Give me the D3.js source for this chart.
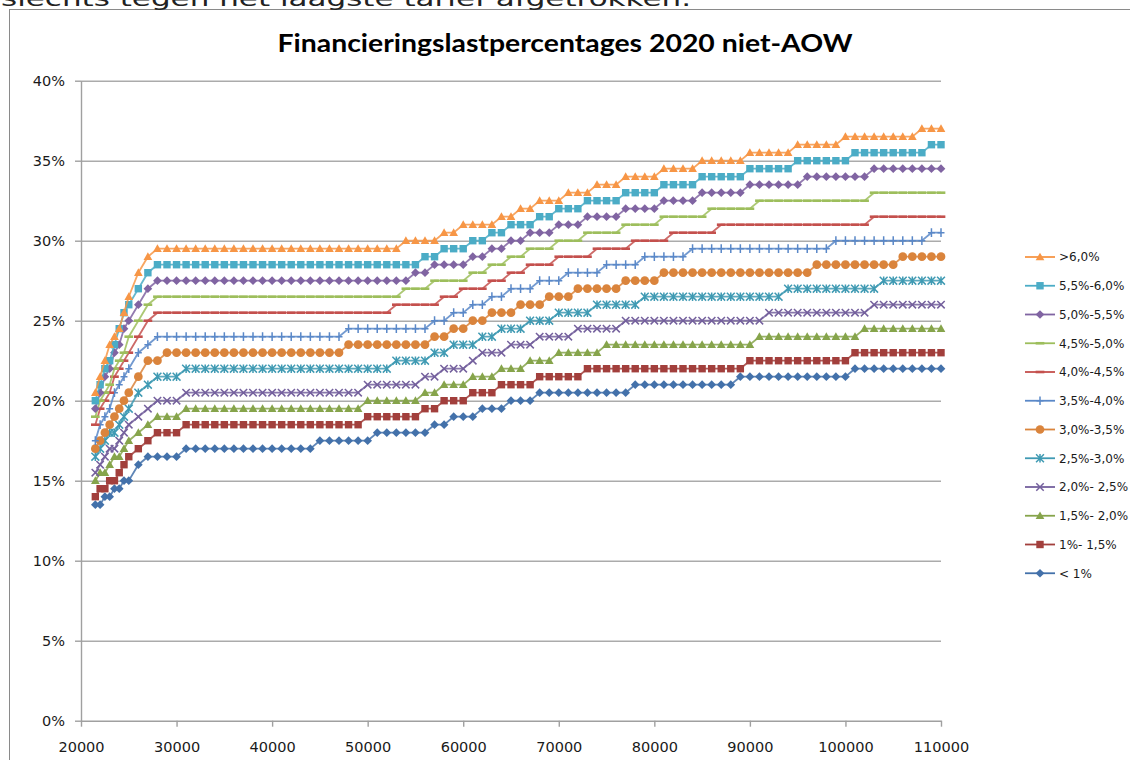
<!DOCTYPE html>
<html>
<head>
<meta charset="utf-8">
<script src="https://cdn.jsdelivr.net/npm/d3@7"></script>
<style>
  body { margin: 0; background: #fff; }
  svg { display: block; }
</style>
</head>
<body>
<svg id="chart" width="1130" height="760"></svg>
<script>
/* Financieringslastpercentages 2020 niet-AOW */

// Toetsinkomen (x) and percentages per rente-klasse
const incomes = [
  21500, 22000, 22500, 23000, 23500, 24000, 24500, 25000,
  26000, 27000, 28000, 29000,
  30000, 31000, 32000, 33000, 34000, 35000, 36000, 37000, 38000, 39000,
  40000, 41000, 42000, 43000, 44000, 45000, 46000, 47000, 48000, 49000,
  50000, 51000, 52000, 53000, 54000, 55000, 56000, 57000, 58000, 59000,
  60000, 61000, 62000, 63000, 64000, 65000, 66000, 67000, 68000, 69000,
  70000, 71000, 72000, 73000, 74000, 75000, 76000, 77000, 78000, 79000,
  80000, 81000, 82000, 83000, 84000, 85000, 86000, 87000, 88000, 89000,
  90000, 91000, 92000, 93000, 94000, 95000, 96000, 97000, 98000, 99000,
  100000, 101000, 102000, 103000, 104000, 105000, 106000, 107000, 108000, 109000,
  110000
];

const pctLt1 = [
  13.5, 13.5, 14, 14, 14.5, 14.5, 15, 15,
  16, 16.5, 16.5, 16.5,
  16.5, 17, 17, 17, 17, 17, 17, 17, 17, 17,
  17, 17, 17, 17, 17, 17.5, 17.5, 17.5, 17.5, 17.5,
  17.5, 18, 18, 18, 18, 18, 18, 18.5, 18.5, 19,
  19, 19, 19.5, 19.5, 19.5, 20, 20, 20, 20.5, 20.5,
  20.5, 20.5, 20.5, 20.5, 20.5, 20.5, 20.5, 20.5, 21, 21,
  21, 21, 21, 21, 21, 21, 21, 21, 21, 21.5,
  21.5, 21.5, 21.5, 21.5, 21.5, 21.5, 21.5, 21.5, 21.5, 21.5,
  21.5, 22, 22, 22, 22, 22, 22, 22, 22, 22,
  22
];
const pct1to15 = [
  14, 14.5, 14.5, 15, 15, 15.5, 16, 16.5,
  17, 17.5, 18, 18,
  18, 18.5, 18.5, 18.5, 18.5, 18.5, 18.5, 18.5, 18.5, 18.5,
  18.5, 18.5, 18.5, 18.5, 18.5, 18.5, 18.5, 18.5, 18.5, 18.5,
  19, 19, 19, 19, 19, 19, 19.5, 19.5, 20, 20,
  20, 20.5, 20.5, 20.5, 21, 21, 21, 21, 21.5, 21.5,
  21.5, 21.5, 21.5, 22, 22, 22, 22, 22, 22, 22,
  22, 22, 22, 22, 22, 22, 22, 22, 22, 22,
  22.5, 22.5, 22.5, 22.5, 22.5, 22.5, 22.5, 22.5, 22.5, 22.5,
  22.5, 23, 23, 23, 23, 23, 23, 23, 23, 23,
  23
];
const pct15to2 = [
  15, 15.5, 15.5, 16, 16.5, 16.5, 17, 17.5,
  18, 18.5, 19, 19,
  19, 19.5, 19.5, 19.5, 19.5, 19.5, 19.5, 19.5, 19.5, 19.5,
  19.5, 19.5, 19.5, 19.5, 19.5, 19.5, 19.5, 19.5, 19.5, 19.5,
  20, 20, 20, 20, 20, 20, 20.5, 20.5, 21, 21,
  21, 21.5, 21.5, 21.5, 22, 22, 22, 22.5, 22.5, 22.5,
  23, 23, 23, 23, 23, 23.5, 23.5, 23.5, 23.5, 23.5,
  23.5, 23.5, 23.5, 23.5, 23.5, 23.5, 23.5, 23.5, 23.5, 23.5,
  23.5, 24, 24, 24, 24, 24, 24, 24, 24, 24,
  24, 24, 24.5, 24.5, 24.5, 24.5, 24.5, 24.5, 24.5, 24.5,
  24.5
];
const pct2to25 = [
  15.5, 16, 16.5, 17, 17, 17.5, 18, 18.5,
  19, 19.5, 20, 20,
  20, 20.5, 20.5, 20.5, 20.5, 20.5, 20.5, 20.5, 20.5, 20.5,
  20.5, 20.5, 20.5, 20.5, 20.5, 20.5, 20.5, 20.5, 20.5, 20.5,
  21, 21, 21, 21, 21, 21, 21.5, 21.5, 22, 22,
  22, 22.5, 23, 23, 23, 23.5, 23.5, 23.5, 24, 24,
  24, 24, 24.5, 24.5, 24.5, 24.5, 24.5, 25, 25, 25,
  25, 25, 25, 25, 25, 25, 25, 25, 25, 25,
  25, 25, 25.5, 25.5, 25.5, 25.5, 25.5, 25.5, 25.5, 25.5,
  25.5, 25.5, 25.5, 26, 26, 26, 26, 26, 26, 26,
  26
];
const pct25to3 = [
  16.5, 17, 17.5, 18, 18, 18.5, 19, 19.5,
  20.5, 21, 21.5, 21.5,
  21.5, 22, 22, 22, 22, 22, 22, 22, 22, 22,
  22, 22, 22, 22, 22, 22, 22, 22, 22, 22,
  22, 22, 22, 22.5, 22.5, 22.5, 22.5, 23, 23, 23.5,
  23.5, 23.5, 24, 24, 24.5, 24.5, 24.5, 25, 25, 25,
  25.5, 25.5, 25.5, 25.5, 26, 26, 26, 26, 26, 26.5,
  26.5, 26.5, 26.5, 26.5, 26.5, 26.5, 26.5, 26.5, 26.5, 26.5,
  26.5, 26.5, 26.5, 26.5, 27, 27, 27, 27, 27, 27,
  27, 27, 27, 27, 27.5, 27.5, 27.5, 27.5, 27.5, 27.5,
  27.5
];
const pct3to35 = [
  17, 17.5, 18, 18.5, 19, 19.5, 20, 20.5,
  21.5, 22.5, 22.5, 23,
  23, 23, 23, 23, 23, 23, 23, 23, 23, 23,
  23, 23, 23, 23, 23, 23, 23, 23, 23.5, 23.5,
  23.5, 23.5, 23.5, 23.5, 23.5, 23.5, 23.5, 24, 24, 24.5,
  24.5, 25, 25, 25.5, 25.5, 25.5, 26, 26, 26, 26.5,
  26.5, 26.5, 27, 27, 27, 27, 27, 27.5, 27.5, 27.5,
  27.5, 28, 28, 28, 28, 28, 28, 28, 28, 28,
  28, 28, 28, 28, 28, 28, 28, 28.5, 28.5, 28.5,
  28.5, 28.5, 28.5, 28.5, 28.5, 28.5, 29, 29, 29, 29,
  29
];
const pct35to4 = [
  17.5, 18.5, 19, 19.5, 20.5, 21, 21.5, 22,
  23, 23.5, 24, 24,
  24, 24, 24, 24, 24, 24, 24, 24, 24, 24,
  24, 24, 24, 24, 24, 24, 24, 24, 24.5, 24.5,
  24.5, 24.5, 24.5, 24.5, 24.5, 24.5, 24.5, 25, 25, 25.5,
  25.5, 26, 26, 26.5, 26.5, 27, 27, 27, 27.5, 27.5,
  27.5, 28, 28, 28, 28, 28.5, 28.5, 28.5, 28.5, 29,
  29, 29, 29, 29, 29.5, 29.5, 29.5, 29.5, 29.5, 29.5,
  29.5, 29.5, 29.5, 29.5, 29.5, 29.5, 29.5, 29.5, 29.5, 30,
  30, 30, 30, 30, 30, 30, 30, 30, 30, 30.5,
  30.5
];
const pct4to45 = [
  18.5, 19.5, 20, 20.5, 21.5, 22, 22.5, 23,
  24, 25, 25.5, 25.5,
  25.5, 25.5, 25.5, 25.5, 25.5, 25.5, 25.5, 25.5, 25.5, 25.5,
  25.5, 25.5, 25.5, 25.5, 25.5, 25.5, 25.5, 25.5, 25.5, 25.5,
  25.5, 25.5, 25.5, 26, 26, 26, 26, 26, 26.5, 26.5,
  27, 27, 27, 27.5, 27.5, 28, 28, 28.5, 28.5, 28.5,
  29, 29, 29, 29, 29.5, 29.5, 29.5, 29.5, 30, 30,
  30, 30, 30.5, 30.5, 30.5, 30.5, 30.5, 31, 31, 31,
  31, 31, 31, 31, 31, 31, 31, 31, 31, 31,
  31, 31, 31, 31.5, 31.5, 31.5, 31.5, 31.5, 31.5, 31.5,
  31.5
];
const pct45to5 = [
  19, 20, 20.5, 21, 22, 22.5, 23, 24,
  25, 26, 26.5, 26.5,
  26.5, 26.5, 26.5, 26.5, 26.5, 26.5, 26.5, 26.5, 26.5, 26.5,
  26.5, 26.5, 26.5, 26.5, 26.5, 26.5, 26.5, 26.5, 26.5, 26.5,
  26.5, 26.5, 26.5, 26.5, 27, 27, 27, 27.5, 27.5, 27.5,
  27.5, 28, 28, 28.5, 28.5, 29, 29, 29.5, 29.5, 29.5,
  30, 30, 30, 30.5, 30.5, 30.5, 30.5, 31, 31, 31,
  31, 31.5, 31.5, 31.5, 31.5, 31.5, 32, 32, 32, 32,
  32, 32.5, 32.5, 32.5, 32.5, 32.5, 32.5, 32.5, 32.5, 32.5,
  32.5, 32.5, 32.5, 33, 33, 33, 33, 33, 33, 33,
  33
];
const pct5to55 = [
  19.5, 20.5, 21.5, 22, 23, 23.5, 24.5, 25,
  26, 27, 27.5, 27.5,
  27.5, 27.5, 27.5, 27.5, 27.5, 27.5, 27.5, 27.5, 27.5, 27.5,
  27.5, 27.5, 27.5, 27.5, 27.5, 27.5, 27.5, 27.5, 27.5, 27.5,
  27.5, 27.5, 27.5, 27.5, 27.5, 28, 28, 28.5, 28.5, 28.5,
  28.5, 29, 29, 29.5, 29.5, 30, 30, 30.5, 30.5, 30.5,
  31, 31, 31, 31.5, 31.5, 31.5, 31.5, 32, 32, 32,
  32, 32.5, 32.5, 32.5, 32.5, 33, 33, 33, 33, 33,
  33.5, 33.5, 33.5, 33.5, 33.5, 33.5, 34, 34, 34, 34,
  34, 34, 34, 34.5, 34.5, 34.5, 34.5, 34.5, 34.5, 34.5,
  34.5
];
const pct55to6 = [
  20, 21, 22, 22.5, 23.5, 24.5, 25.5, 26,
  27, 28, 28.5, 28.5,
  28.5, 28.5, 28.5, 28.5, 28.5, 28.5, 28.5, 28.5, 28.5, 28.5,
  28.5, 28.5, 28.5, 28.5, 28.5, 28.5, 28.5, 28.5, 28.5, 28.5,
  28.5, 28.5, 28.5, 28.5, 28.5, 28.5, 29, 29, 29.5, 29.5,
  29.5, 30, 30, 30.5, 30.5, 31, 31, 31, 31.5, 31.5,
  32, 32, 32, 32.5, 32.5, 32.5, 32.5, 33, 33, 33,
  33, 33.5, 33.5, 33.5, 33.5, 34, 34, 34, 34, 34,
  34.5, 34.5, 34.5, 34.5, 34.5, 35, 35, 35, 35, 35,
  35, 35.5, 35.5, 35.5, 35.5, 35.5, 35.5, 35.5, 35.5, 36,
  36
];
const pctGt6 = [
  20.5, 21.5, 22.5, 23.5, 24, 24.5, 25.5, 26.5,
  28, 29, 29.5, 29.5,
  29.5, 29.5, 29.5, 29.5, 29.5, 29.5, 29.5, 29.5, 29.5, 29.5,
  29.5, 29.5, 29.5, 29.5, 29.5, 29.5, 29.5, 29.5, 29.5, 29.5,
  29.5, 29.5, 29.5, 29.5, 30, 30, 30, 30, 30.5, 30.5,
  31, 31, 31, 31, 31.5, 31.5, 32, 32, 32.5, 32.5,
  32.5, 33, 33, 33, 33.5, 33.5, 33.5, 34, 34, 34,
  34, 34.5, 34.5, 34.5, 34.5, 35, 35, 35, 35, 35,
  35.5, 35.5, 35.5, 35.5, 35.5, 36, 36, 36, 36, 36,
  36.5, 36.5, 36.5, 36.5, 36.5, 36.5, 36.5, 36.5, 37, 37,
  37
];

const seriesNames = ["< 1%", "1%- 1,5%", "1,5%- 2,0%", "2,0%- 2,5%", "2,5%-3,0%", "3,0%-3,5%",
                     "3,5%-4,0%", "4,0%-4,5%", "4,5%-5,0%", "5,0%-5,5%", "5,5%-6,0%", ">6,0%"];
const seriesValues = [pctLt1, pct1to15, pct15to2, pct2to25, pct25to3, pct3to35,
                      pct35to4, pct4to45, pct45to5, pct5to55, pct55to6, pctGt6];

const xTicks = [20000, 30000, 40000, 50000, 60000, 70000, 80000, 90000, 100000, 110000];
const yTicks = [0, 5, 10, 15, 20, 25, 30, 35, 40];

const chartTitle = "Financieringslastpercentages 2020 niet-AOW";
const pageLine = "slechts tegen het laagste tarief afgetrokken.";

// Styling (Excel-like)
const seriesColors = ["#4371AA", "#A23F3C", "#86A44B", "#74609D", "#3F9AB3", "#DA843C",
                      "#5A88C8", "#C4504D", "#9DBE5C", "#8064A2", "#4BACC6", "#F79646"];
const seriesMarkers = ["diamond", "square", "triangle", "times", "asterisk", "circle",
                       "plus", "dash", "dash", "diamond", "square", "triangle"];

///////////////////////////////
/// Marker shapes
///////////////////////////////

let markerTypes = {
    diamond: { draw(ctx, s) { let r = Math.sqrt(s) / 2; ctx.moveTo(0, -r); ctx.lineTo(r, 0); ctx.lineTo(0, r); ctx.lineTo(-r, 0); ctx.closePath(); } },
    square: { draw(ctx, s) { let r = Math.sqrt(s) / 2 * 0.85; ctx.rect(-r, -r, 2 * r, 2 * r); } },
    triangle: { draw(ctx, s) { let r = Math.sqrt(s) / 2; ctx.moveTo(0, -r); ctx.lineTo(r, r * 0.75); ctx.lineTo(-r, r * 0.75); ctx.closePath(); } },
    circle: { draw(ctx, s) { let r = Math.sqrt(s) / 2; ctx.moveTo(r, 0); ctx.arc(0, 0, r, 0, 2 * Math.PI); ctx.closePath(); } },
    dash: { draw(ctx, s) { let r = Math.sqrt(s) / 2; ctx.rect(-r, -1.3, 2 * r, 2.6); } },
    times: { draw(ctx, s) { let r = Math.sqrt(s) / 2 * 0.85; ctx.moveTo(-r, -r); ctx.lineTo(r, r); ctx.moveTo(r, -r); ctx.lineTo(-r, r); } },
    plus: { draw(ctx, s) { let r = Math.sqrt(s) / 2; ctx.moveTo(0, -r); ctx.lineTo(0, r); ctx.moveTo(-r * 0.8, 0); ctx.lineTo(r * 0.8, 0); } },
    asterisk: { draw(ctx, s) { let r = Math.sqrt(s) / 2 * 0.9; ctx.moveTo(-r, -r); ctx.lineTo(r, r); ctx.moveTo(r, -r); ctx.lineTo(-r, r); ctx.moveTo(0, -r * 1.1); ctx.lineTo(0, r * 1.1); } }
};
let strokedMarkers = ["times", "plus", "asterisk"];

let markerPath = function (kind) {
    return d3.symbol().type(markerTypes[kind]).size(76)();
};

///////////////////////////////
/// Chart
///////////////////////////////

const svg = d3.select("#chart");

const x = d3.scaleLinear().domain([20000, 110000]).range([81, 941]);
const y = d3.scaleLinear().domain([0, 40]).range([720.7, 80.7]);

// Chart area border (continues beyond the crop)
svg.append("rect")
    .attr("x", 9.5).attr("y", 9.5)
    .attr("width", 1300).attr("height", 900)
    .attr("fill", "none").attr("stroke", "#8a8a8a").attr("stroke-width", 1);

// Cut-off line of document text above the chart
svg.append("text")
    .attr("x", 1).attr("y", 6)
    .attr("font-family", "DejaVu Sans").attr("font-size", 22)
    .attr("fill", "#222")
    .attr("textLength", 690).attr("lengthAdjust", "spacingAndGlyphs")
    .text(pageLine);

// Title
svg.append("text")
    .attr("x", 565).attr("y", 52)
    .attr("text-anchor", "middle")
    .attr("font-family", "Lato, 'Open Sans', sans-serif").attr("font-weight", "bold").attr("font-size", 25)
    .attr("fill", "#000")
    .attr("textLength", 575).attr("lengthAdjust", "spacingAndGlyphs")
    .text(chartTitle);

// Gridlines
let grid = svg.append("g")
    .attr("transform", "translate(81,0)")
    .call(d3.axisLeft(y).tickValues(yTicks.filter(d => d > 0)).tickSize(-860).tickFormat(""));
grid.select(".domain").remove();
grid.selectAll("line").attr("stroke", "#ababab").attr("stroke-width", 1.4);

// Y axis
let yAxis = svg.append("g")
    .attr("transform", "translate(81,0)")
    .call(d3.axisLeft(y).tickValues(yTicks).tickSize(6).tickSizeOuter(0).tickPadding(10).tickFormat(d => d + "%"));
yAxis.select(".domain").attr("stroke", "#a0a0a0").attr("stroke-width", 1.4);
yAxis.selectAll("line").attr("stroke", "#a0a0a0").attr("stroke-width", 1.4);
yAxis.selectAll("text").attr("font-family", "DejaVu Sans").attr("font-size", 14.5).attr("fill", "#1a1a1a");

// X axis
let xAxis = svg.append("g")
    .attr("transform", "translate(0,720.7)")
    .call(d3.axisBottom(x).tickValues(xTicks).tickSize(6).tickSizeOuter(0).tickPadding(15).tickFormat(d3.format("d")));
xAxis.select(".domain").attr("stroke", "#a0a0a0").attr("stroke-width", 1.4);
xAxis.selectAll("line").attr("stroke", "#a0a0a0").attr("stroke-width", 1.4);
xAxis.selectAll("text").attr("font-family", "DejaVu Sans").attr("font-size", 14.5).attr("fill", "#1a1a1a");

// Series
let series = seriesNames.map(function (name, i) {
    return {
        name: name,
        color: seriesColors[i],
        marker: seriesMarkers[i],
        points: incomes.map((inc, j) => ({ inc: inc, pct: seriesValues[i][j] }))
    };
});

let line = d3.line()
    .x(d => x(d.inc))
    .y(d => y(d.pct));

let groups = svg.append("g").selectAll("g.series")
    .data(series)
    .join("g")
    .attr("class", "series");

groups.append("path")
    .attr("d", d => line(d.points))
    .attr("fill", "none")
    .attr("stroke", d => d.color)
    .attr("stroke-width", 1.8)
    .attr("stroke-opacity", 0.85);

groups.each(function (s) {
    let stroked = strokedMarkers.indexOf(s.marker) >= 0;
    d3.select(this).selectAll("path.mark")
        .data(s.points)
        .join("path")
        .attr("class", "mark")
        .attr("d", markerPath(s.marker))
        .attr("transform", d => "translate(" + x(d.inc) + "," + y(d.pct) + ")")
        .attr("fill", stroked ? "none" : s.color)
        .attr("stroke", stroked ? s.color : "none")
        .attr("stroke-width", stroked ? 1.5 : 0);
});

// Legend (reverse order, as in the original)
let legendRows = series.slice().reverse();
let legend = svg.append("g").selectAll("g.legend")
    .data(legendRows)
    .join("g")
    .attr("class", "legend")
    .attr("transform", (d, i) => "translate(1025," + (257 + i * 28.75) + ")");

legend.append("line")
    .attr("x1", 0).attr("x2", 30)
    .attr("stroke", d => d.color).attr("stroke-width", 1.8);

legend.append("path")
    .attr("d", d => markerPath(d.marker))
    .attr("transform", "translate(15,0)")
    .attr("fill", d => strokedMarkers.indexOf(d.marker) >= 0 ? "none" : d.color)
    .attr("stroke", d => strokedMarkers.indexOf(d.marker) >= 0 ? d.color : "none")
    .attr("stroke-width", 1.5);

legend.append("text")
    .attr("x", 34).attr("dy", "0.36em")
    .attr("font-family", "DejaVu Sans").attr("font-size", 12)
    .attr("fill", "#1a1a1a")
    .text(d => d.name);
</script>
</body>
</html>
